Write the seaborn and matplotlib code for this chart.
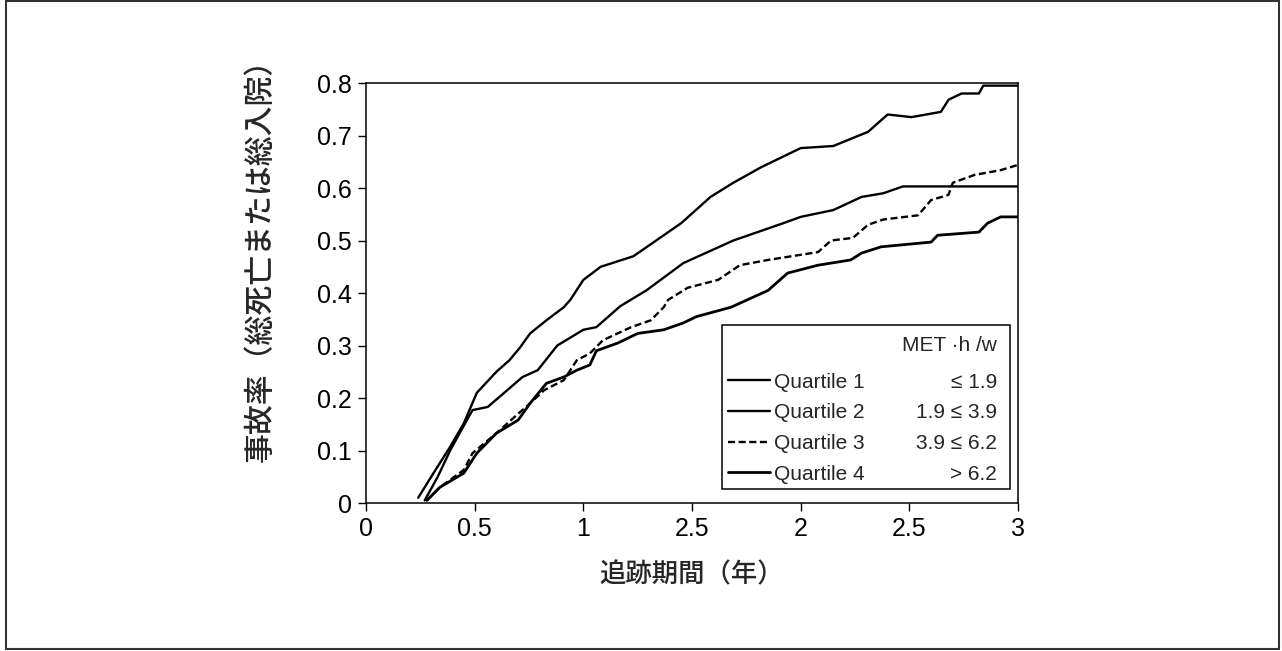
import matplotlib
matplotlib.use("Agg")
import matplotlib.pyplot as plt
from matplotlib.patches import Rectangle
from matplotlib.lines import Line2D
import seaborn as sns
import pandas as pd

# follow-up years and event rate per activity quartile
q1_x = [0.24, 0.30, 0.387, 0.45, 0.51, 0.60, 0.66, 0.71, 0.755, 0.83, 0.91, 0.94, 1.0, 1.08, 1.23, 1.30,
        1.45, 1.585, 1.69, 1.82, 2.0, 2.15, 2.31, 2.40, 2.51, 2.645, 2.68, 2.74, 2.82, 2.84, 3.0]
q1_y = [0.01, 0.05, 0.107, 0.152, 0.21, 0.25, 0.272, 0.297, 0.323, 0.348, 0.373, 0.387, 0.425, 0.45, 0.47, 0.49,
        0.533, 0.583, 0.61, 0.64, 0.676, 0.68, 0.707, 0.74, 0.735, 0.745, 0.768, 0.78, 0.78, 0.795, 0.795]

q2_x = [0.27, 0.33, 0.387, 0.44, 0.49, 0.56, 0.65, 0.72, 0.79, 0.88, 1.0, 1.06, 1.17, 1.29, 1.46, 1.69,
        1.92, 2.0, 2.15, 2.28, 2.38, 2.47, 3.0]
q2_y = [0.005, 0.05, 0.1, 0.14, 0.177, 0.183, 0.215, 0.24, 0.253, 0.30, 0.33, 0.335, 0.375, 0.405, 0.457, 0.50,
        0.533, 0.545, 0.558, 0.583, 0.59, 0.603, 0.603]

q3_x = [0.28, 0.34, 0.45, 0.49, 0.60, 0.70, 0.755, 0.82, 0.91, 0.97, 1.03, 1.09, 1.22, 1.31, 1.37, 1.39,
        1.48, 1.62, 1.72, 1.85, 2.08, 2.14, 2.24, 2.31, 2.38, 2.54, 2.60, 2.68, 2.70, 2.80, 2.92, 3.0]
q3_y = [0.005, 0.03, 0.063, 0.095, 0.133, 0.17, 0.19, 0.215, 0.234, 0.272, 0.285, 0.31, 0.335, 0.348, 0.373, 0.387,
        0.41, 0.425, 0.453, 0.463, 0.478, 0.50, 0.505, 0.53, 0.54, 0.548, 0.577, 0.587, 0.61, 0.625, 0.634, 0.644]

q4_x = [0.28, 0.34, 0.45, 0.51, 0.60, 0.70, 0.755, 0.83, 0.91, 0.97, 1.03, 1.06, 1.16, 1.25, 1.37, 1.46,
        1.52, 1.68, 1.85, 1.94, 2.08, 2.23, 2.28, 2.37, 2.60, 2.63, 2.82, 2.86, 2.92, 3.0]
q4_y = [0.005, 0.03, 0.057, 0.095, 0.133, 0.158, 0.19, 0.228, 0.24, 0.253, 0.263, 0.29, 0.305, 0.323, 0.33, 0.343,
        0.355, 0.373, 0.405, 0.438, 0.453, 0.463, 0.476, 0.488, 0.497, 0.51, 0.516, 0.533, 0.545, 0.545]

quartiles = ["Quartile 1", "Quartile 2", "Quartile 3", "Quartile 4"]
ranges = ["≤ 1.9", "1.9 ≤ 3.9", "3.9 ≤ 6.2", "> 6.2"]
x_ticks = [0, 0.5, 1, 1.5, 2, 2.5, 3]
x_tick_labels = ["0", "0.5", "1", "2.5", "2", "2.5", "3"]
y_ticks = [0, 0.1, 0.2, 0.3, 0.4, 0.5, 0.6, 0.7, 0.8]
y_tick_labels = ["0", "0.1", "0.2", "0.3", "0.4", "0.5", "0.6", "0.7", "0.8"]

series = [(q1_x, q1_y), (q2_x, q2_y), (q3_x, q3_y), (q4_x, q4_y)]
styles = ["-", "-", (0, (3, 1.5)), "-"]
widths = [1.7, 1.7, 1.7, 2.0]

sns.set_style("white")
plt.rcParams['font.family'] = ['Liberation Sans', 'Noto Sans CJK JP']
JP = ['Noto Sans CJK JP', 'DejaVu Sans']

fig = plt.figure(figsize=(12.82, 6.51), dpi=100)
ax = fig.add_axes([0.2855, 0.2273, 0.5086, 0.6452])

for (xs, ys), name, ls, lw in zip(series, quartiles, styles, widths):
    df = pd.DataFrame({"t": xs, "rate": ys})
    sns.lineplot(data=df, x="t", y="rate", ax=ax, color="black", linestyle=ls,
                 linewidth=lw, sort=False, estimator=None)

ax.set_xlim(0, 3)
ax.set_ylim(0, 0.8)
ax.set_xticks(x_ticks)
ax.set_xticklabels(x_tick_labels)
ax.set_yticks(y_ticks)
ax.set_yticklabels(y_tick_labels)
ax.tick_params(axis="both", direction="out", length=6, width=1, colors="black",
               labelsize=18, bottom=True, left=True, pad=4)
for s in ax.spines.values():
    s.set_color("black")
    s.set_linewidth(1.1)

ax.set_xlabel("追跡期間（年）", fontsize=19, family=JP, fontweight="medium", labelpad=15)
ax.set_ylabel("事故率（総死亡または総入院）", fontsize=21.5, family=JP, fontweight="medium")
ax.yaxis.set_label_coords(-0.138, 0.595)

# legend: frame, lines + quartile names, then the MET·h/w column
ax.add_patch(Rectangle((0.546, 0.033), 0.442, 0.391, transform=ax.transAxes,
                       fill=True, facecolor="white", edgecolor="black", lw=1.1, zorder=4))
handles = [Line2D([], [], color="black", linestyle=ls, linewidth=lw) for ls, lw in zip(styles, widths)]
ax.legend(handles, quartiles, loc="upper left", bbox_to_anchor=(0.546, 0.325),
          frameon=False, fontsize=15, handlelength=2.0, handletextpad=0.2,
          labelspacing=0.56, borderpad=0.3, borderaxespad=0)
ax.text(0.968, 0.376, "MET ·h /w", transform=ax.transAxes, ha="right", va="center",
        fontsize=15, zorder=5)
row_y = [0.288, 0.216, 0.142, 0.069]
for yy, r in zip(row_y, ranges):
    ax.text(0.968, yy, r, transform=ax.transAxes, ha="right", va="center", fontsize=15, zorder=5)

# scanned page border
fig.patches.append(Rectangle((0.005, 0.003), 0.993, 0.995, transform=fig.transFigure,
                             fill=False, edgecolor="#333333", lw=1.5))

fig.savefig("out.png", dpi=100)
